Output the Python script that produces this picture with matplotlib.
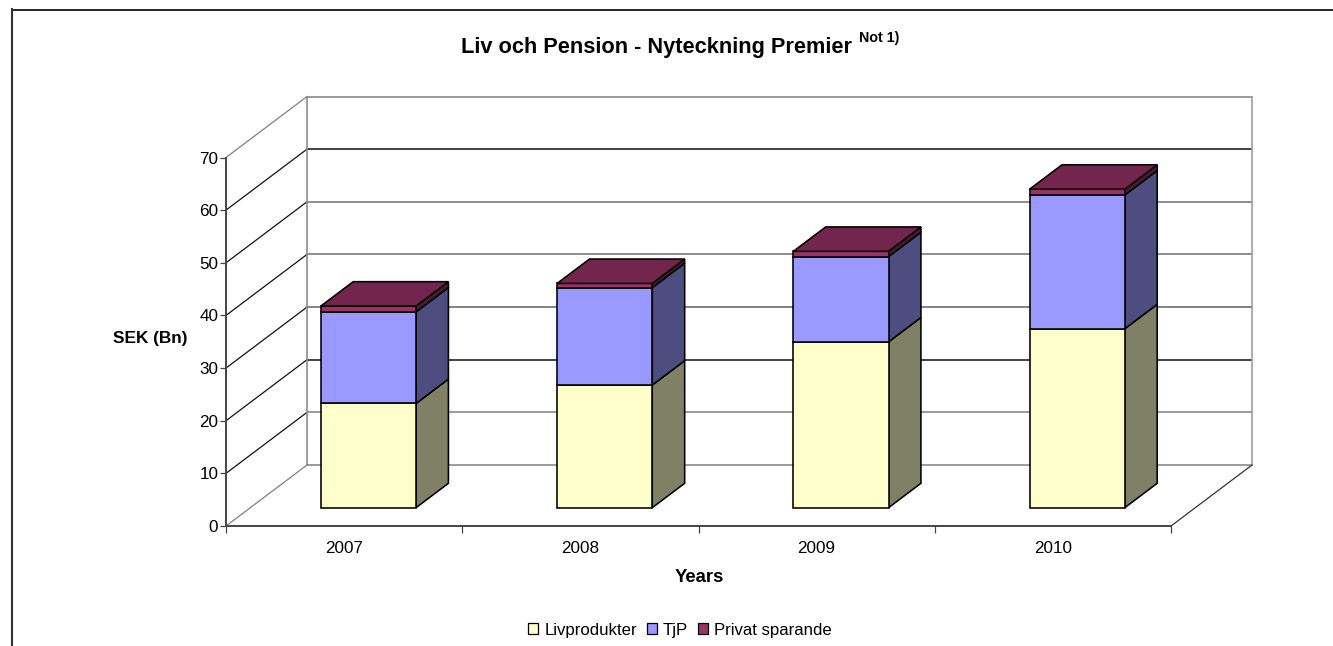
import matplotlib
matplotlib.use("Agg")
import matplotlib.pyplot as plt
from matplotlib.patches import Patch, Polygon

years = ["2007", "2008", "2009", "2010"]
livprodukter = [19.8, 23.3, 31.5, 34.0]
tjp = [17.4, 18.5, 16.2, 25.4]
privat = [1.1, 0.8, 1.0, 1.1]
series_names = ["Livprodukter", "TjP", "Privat sparande"]
series_values = [livprodukter, tjp, privat]
front_colors = ["#FFFFCC", "#9999FF", "#993366"]
side_colors = ["#808066", "#4D4D80", "#4D1A33"]
top_colors = ["#FFFFCC", "#9999FF", "#73264D"]

W, H = 1333, 646
plt.rcParams["font.family"] = ["Liberation Sans", "DejaVu Sans"]
fig = plt.figure(figsize=(W / 100, H / 100), dpi=100, facecolor="white")

# front plane of the 3D box, in pixels
x0, x1, y0, y1 = 226, 1171, 526, 157.5
ax = fig.add_axes([x0 / W, 1 - y0 / H, (x1 - x0) / W, (y0 - y1) / H])
ax.set_xlim(0, 4)
ax.set_ylim(0, 70)
ax.patch.set_alpha(0)

px_x = 4 / (x1 - x0)
px_y = 70 / (y0 - y1)
DX, DY = 81 * px_x, 61 * px_y   # full floor depth in data units


def proj(x, y, d):
    return (x + d * DX, y + d * DY)


# chart frame
for xs, ys, c, lw in [((12, 1333), (9.5, 9.5), "#000000", 1.2), ((12, 12), (9, 646), "#333333", 1.5)]:
    fig.add_artist(plt.Line2D([v / W for v in xs], [1 - v / H for v in ys], color=c, lw=lw))

# walls and gridlines
grid_colors = {0: "#808080", 10: "#808080", 20: "#111111", 30: "#606060",
               40: "#707070", 50: "#707070", 60: "#111111", 70: "#808080"}
for v in range(0, 80, 10):
    diag = "#808080" if v in (0, 70) else "#111111"
    p0, p1, p2 = proj(0, v, 0), proj(0, v, 1), proj(4, v, 1)
    ax.plot([p0[0], p1[0]], [p0[1], p1[1]], color=diag, lw=0.9, clip_on=False, zorder=1)
    ax.plot([p1[0], p2[0]], [p1[1], p2[1]], color=grid_colors[v], lw=1.1, clip_on=False, zorder=1)
pa, pb = proj(0, 0, 1), proj(0, 70, 1)
ax.plot([pa[0], pb[0]], [pa[1], pb[1]], color="#8c8c8c", lw=1.2, clip_on=False, zorder=1)
pa, pb = proj(4, 0, 1), proj(4, 70, 1)
ax.plot([pa[0], pb[0]], [pa[1], pb[1]], color="#a0a0a0", lw=1.2, clip_on=False, zorder=1)
pa, pb = proj(4, 0, 0), proj(4, 0, 1)
ax.plot([pa[0], pb[0]], [pa[1], pb[1]], color="#333333", lw=0.9, clip_on=False, zorder=1)

# bars
bar_w = 0.403
d_front, d_back = 0.30, 0.70
for i in range(len(years)):
    base = 0.0
    left = i + 0.5 - bar_w / 2
    right = left + bar_w
    for k, values in enumerate(series_values):
        top = base + values[i]
        front = [proj(left, base, d_front), proj(right, base, d_front),
                 proj(right, top, d_front), proj(left, top, d_front)]
        side = [proj(right, base, d_front), proj(right, base, d_back),
                proj(right, top, d_back), proj(right, top, d_front)]
        for pts, col in ((side, side_colors[k]), (front, front_colors[k])):
            ax.add_patch(Polygon(pts, closed=True, facecolor=col, edgecolor="black",
                                 lw=1.15, clip_on=False, zorder=3, joinstyle="miter"))
        if k == len(series_values) - 1:
            roof = [proj(left, top, d_front), proj(right, top, d_front),
                    proj(right, top, d_back), proj(left, top, d_back)]
            ax.add_patch(Polygon(roof, closed=True, facecolor=top_colors[k], edgecolor="black",
                                 lw=1.15, clip_on=False, zorder=3, joinstyle="miter"))
        base = top

# axes
for s in ("top", "right"):
    ax.spines[s].set_visible(False)
for s in ("left", "bottom"):
    ax.spines[s].set_color("#444444")
    ax.spines[s].set_linewidth(1.4)
ax.set_yticks(range(0, 80, 10))
ax.tick_params(axis="y", labelsize=12.3, length=4.5, width=0.9, color="#444444", pad=1)
ax.set_xticks(range(5))
ax.set_xticklabels([])
ax.tick_params(axis="x", which="major", length=4.8, width=0.9, color="#444444")
ax.set_xticks([i + 0.5 for i in range(4)], minor=True)
ax.set_xticklabels(years, minor=True, fontsize=12.3)
ax.tick_params(axis="x", which="minor", length=0, pad=11)

# titles
fig.text(656.5 / W, 1 - 47 / H, "Liv och Pension - Nyteckning Premier", ha="center", va="center",
         fontsize=15.7, fontweight="bold")
fig.text(879 / W, 1 - 38 / H, "Not 1)", ha="center", va="center", fontsize=10.3, fontweight="bold")
fig.text(150.5 / W, 1 - 339 / H, "SEK (Bn)", ha="center", va="center", fontsize=12.4, fontweight="bold")
fig.text(699.5 / W, 1 - 577 / H, "Years", ha="center", va="center", fontsize=13.3, fontweight="bold")

handles = [Patch(facecolor=c, edgecolor="black", lw=0.9) for c in front_colors]
fig.legend(handles, series_names, loc="center", bbox_to_anchor=(680 / W, 1 - 630 / H), ncol=3,
           frameon=False, fontsize=12.1, handlelength=0.6, handleheight=0.6,
           handletextpad=0.35, columnspacing=0.6, borderpad=0, borderaxespad=0)

fig.savefig("out.png", dpi=100, facecolor="white")
